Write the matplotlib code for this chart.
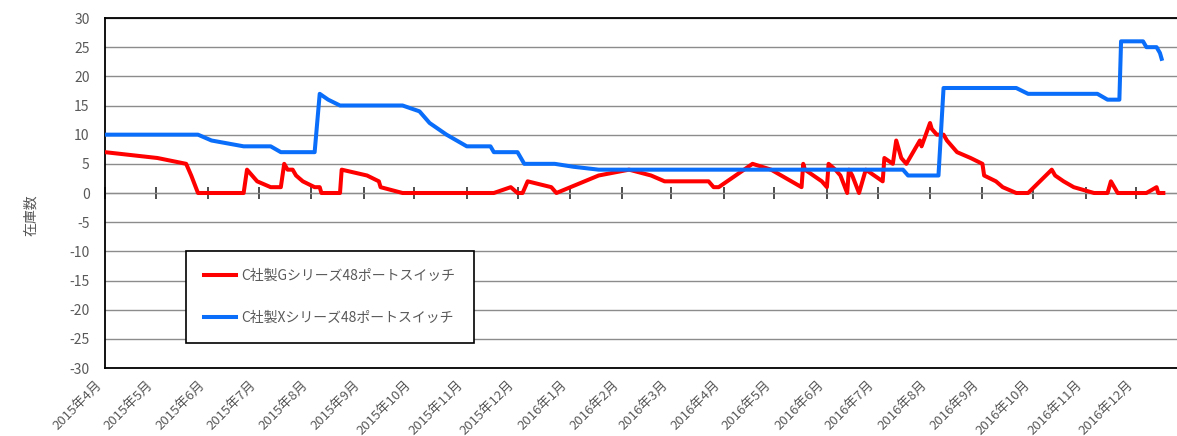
import matplotlib
matplotlib.use("Agg")
import matplotlib.pyplot as plt
import matplotlib.transforms as mtransforms
import pandas as pd

plt.rcParams['font.family'] = ['Noto Sans CJK JP', 'DejaVu Sans']

# 在庫推移データ
g_dates = ["2015-04-01", "2015-05-02", "2015-05-19", "2015-05-22", "2015-05-26",
           "2015-06-22", "2015-06-24", "2015-06-30", "2015-07-08", "2015-07-14",
           "2015-07-16", "2015-07-18", "2015-07-21", "2015-07-23", "2015-07-27",
           "2015-08-03", "2015-08-06", "2015-08-07", "2015-08-18", "2015-08-19",
           "2015-09-03", "2015-09-10", "2015-09-11", "2015-09-24", "2015-11-17",
           "2015-11-27", "2015-12-01", "2015-12-04", "2015-12-07", "2015-12-21",
           "2015-12-24", "2016-01-18", "2016-02-05", "2016-02-18", "2016-02-26",
           "2016-03-23", "2016-03-26", "2016-03-29", "2016-04-18", "2016-04-29",
           "2016-05-17", "2016-05-18", "2016-05-19", "2016-05-29", "2016-06-01",
           "2016-06-02", "2016-06-06", "2016-06-09", "2016-06-13", "2016-06-14",
           "2016-06-16", "2016-06-20", "2016-06-24", "2016-07-04", "2016-07-05",
           "2016-07-10", "2016-07-12", "2016-07-15", "2016-07-18", "2016-07-26",
           "2016-07-27", "2016-08-01", "2016-08-02", "2016-08-05", "2016-08-09",
           "2016-08-11", "2016-08-17", "2016-08-25", "2016-09-01", "2016-09-02",
           "2016-09-09", "2016-09-13", "2016-09-21", "2016-09-28", "2016-10-12",
           "2016-10-14", "2016-10-19", "2016-10-25", "2016-11-06", "2016-11-14",
           "2016-11-16", "2016-11-20", "2016-12-07", "2016-12-13", "2016-12-14",
           "2016-12-17"]
g_stock = [7, 6, 5, 3, 0,
           0, 4, 2, 1, 1,
           5, 4, 4, 3, 2,
           1, 1, 0, 0, 4,
           3, 2, 1, 0, 0,
           1, 0, 0, 2, 1,
           0, 3, 4, 3, 2,
           2, 1, 1, 5, 4,
           1, 5, 4, 2, 1,
           5, 4, 3, 0, 4,
           3, 0, 4, 2, 6,
           5, 9, 6, 5, 9,
           8, 12, 11, 10, 10,
           9, 7, 6, 5, 3,
           2, 1, 0, 0, 4,
           3, 2, 1, 0, 0,
           2, 0, 0, 1, 0,
           0]

x_dates = ["2015-04-01", "2015-05-26", "2015-06-03", "2015-06-22", "2015-07-08",
           "2015-07-14", "2015-08-03", "2015-08-06", "2015-08-11", "2015-08-18",
           "2015-09-24", "2015-10-04", "2015-10-07", "2015-10-10", "2015-10-20",
           "2015-11-01", "2015-11-15", "2015-11-17", "2015-12-01", "2015-12-05",
           "2015-12-23", "2016-01-03", "2016-01-18", "2016-07-16", "2016-07-19",
           "2016-08-06", "2016-08-09", "2016-09-21", "2016-09-28", "2016-11-08",
           "2016-11-14", "2016-11-21", "2016-11-22", "2016-12-05", "2016-12-07",
           "2016-12-13", "2016-12-15", "2016-12-16"]
x_stock = [10, 10, 9, 8, 8,
           7, 7, 17, 16, 15,
           15, 14, 13, 12, 10,
           8, 8, 7, 7, 5,
           5, 4.5, 4, 4, 3,
           3, 18, 18, 17, 17,
           16, 16, 26, 26, 25,
           25, 24, 23]

labels = ["C社製Gシリーズ48ポートスイッチ", "C社製Xシリーズ48ポートスイッチ"]
months = pd.date_range("2015-04-01", "2016-12-01", freq="MS")
month_labels = [f"{d.year}年{d.month}月" for d in months]
y_ticks = list(range(-30, 31, 5))

W, H = 1177, 436
fig = plt.figure(figsize=(W / 100, H / 100), dpi=100)
ax = fig.add_axes([105 / W, 1 - 368 / H, (1187 - 105) / W, 350 / H])

ax.plot(pd.to_datetime(g_dates), g_stock, color="#FF0000", lw=2.9,
        solid_joinstyle="round", label=labels[0], zorder=3)
ax.plot(pd.to_datetime(x_dates), x_stock, color="#0A6EFA", lw=2.9,
        solid_joinstyle="round", label=labels[1], zorder=4)

ax.set_xlim(pd.Timestamp("2015-04-01"), pd.Timestamp("2016-12-31"))
ax.set_ylim(-30, 30)
ax.set_yticks(y_ticks)
ax.set_yticklabels([str(v) for v in y_ticks])
ax.yaxis.grid(True, color="#8c8c8c", lw=1)
ax.set_axisbelow(True)

ax.set_xticks(months)
ax.set_xticklabels(month_labels, rotation=45, ha="right", rotation_mode="anchor")
ax.tick_params(axis="x", length=0, pad=6, labelsize=9.5, labelcolor="#595959")
ax.tick_params(axis="y", length=0, pad=11, labelsize=10, labelcolor="#595959")
shift = mtransforms.ScaledTranslation(-10 / 100, -2 / 100, fig.dpi_scale_trans)
for lbl in ax.get_xticklabels():
    lbl.set_transform(lbl.get_transform() + shift)

for s in ax.spines.values():
    s.set_color("black")
    s.set_linewidth(1.3)

# 0 の位置の横軸（目盛りは交差）
zero_ax = ax.secondary_xaxis(0.5)
zero_ax.spines["bottom"].set_color("#404040")
zero_ax.spines["bottom"].set_linewidth(1.6)
zero_ax.set_xticks(months)
zero_ax.set_xticklabels([])
zero_ax.tick_params(axis="x", direction="inout", length=9, width=1.3,
                    color="#404040", labelbottom=False, labeltop=False)

ax.set_ylabel("在庫数", fontsize=10, color="#595959")
ax.yaxis.set_label_coords((38 - 105) / (1187 - 105), (368 - 215) / 350)

leg = ax.legend(loc="upper left", bbox_to_anchor=(186 / W, 1 - 251 / H),
                bbox_transform=fig.transFigure, borderaxespad=0,
                fancybox=False, framealpha=1, edgecolor="black",
                fontsize=10, labelspacing=2.0, borderpad=1.3,
                handlelength=2.3, handletextpad=0.4)
leg.get_frame().set_linewidth(1.2)
for t in leg.get_texts():
    t.set_color("#595959")

fig.savefig("out.png", dpi=100)
